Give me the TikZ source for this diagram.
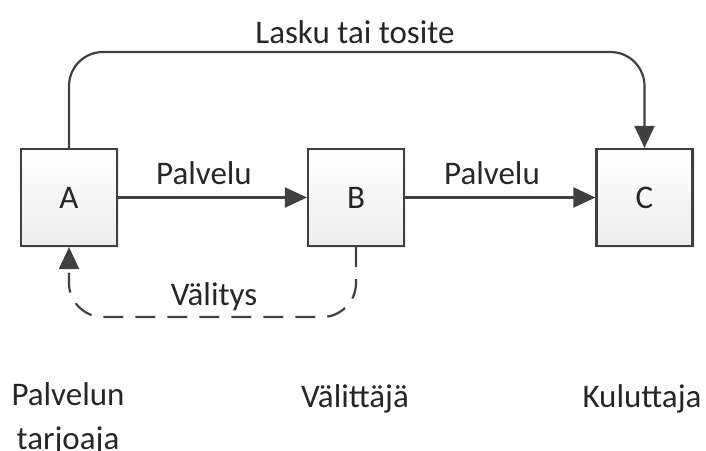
\documentclass[tikz,border=0pt]{standalone}
\usepackage{fontspec}
\setmainfont{Carlito}
\usetikzlibrary{arrows.meta,shadows}
\definecolor{linec}{HTML}{404040}
\definecolor{textc}{HTML}{262626}
\tikzset{
  box/.style={draw=linec, line width=1.1pt, minimum width=48pt, minimum height=48.5pt,
    top color=white, bottom color=black!7, inner sep=0pt,
    drop shadow={shadow xshift=1pt, shadow yshift=-1pt, opacity=0.15},
    font=\fontsize{16.5}{20}\selectfont, text=textc},
  conn/.style={draw=linec, line width=1.1pt, -{Triangle[length=11pt,width=10pt]}},
  lbl/.style={font=\fontsize{16.5}{20}\selectfont, text=textc, inner sep=0pt},
}
\begin{document}
\begin{tikzpicture}[x=0.5pt,y=-0.5pt]
\useasboundingbox (0,0) rectangle (706,450);
\node[box] (A) at (69,197.5) {A};
\node[box] (B) at (356,197.5) {B};
\node[box] (C) at (644.5,197.5) {C};
\coordinate (top) at (0,52);
\coordinate (bot) at (0,317);
\draw[conn] (A) -- (B);
\draw[conn] (B) -- (C);
\draw[conn, rounded corners=17pt] (A.north) -- (A.north |- top) -- (C.north |- top) -- (C.north);
\draw[conn, dash pattern=on 10pt off 6pt, rounded corners=17pt] (B.south) -- (B.south |- bot) -- (A.south |- bot) -- (A.south);
\node[lbl] (l1) at (355,32) {Lasku tai tosite};
\node[lbl] (l2) at (204,173) {Palvelu};
\node[lbl] (l3) at (492,173) {Palvelu};
\node[lbl] (l4) at (214,297) {Välitys};
\node[lbl, align=center] (r1) at (68,419) {Palvelun\\[2pt]tarjoaja};
\node[lbl] (r2) at (355,399) {Välittäjä};
\node[lbl] (r3) at (642,399) {Kuluttaja};
\end{tikzpicture}
\end{document}
